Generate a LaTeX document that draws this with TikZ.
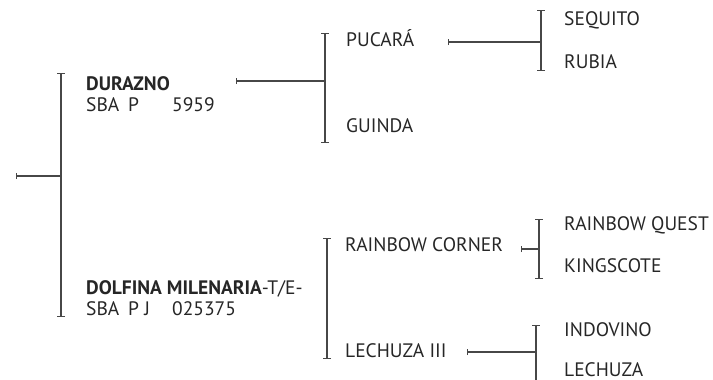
\documentclass[tikz,border=0pt]{standalone}
\usepackage{fontspec}
\setmainfont{PT Sans}
\usetikzlibrary{arrows.meta, positioning}
\colorlet{linecolor}{black!72}
\colorlet{textcolor}{black!85}
\tikzset{
  horse/.style={
    anchor=base west,
    inner sep=0pt,
    text=textcolor,
    font=\fontsize{19.5}{21}\selectfont
  },
  bracket/.style={{Bar[width=8pt]}-{Bar[width=8pt]}, line width=1.1pt, draw=linecolor},
  link/.style={{Bar[width=6pt]}-, line width=1.1pt, draw=linecolor}
}
\newcommand{\regno}[3]{\makebox[42pt][l]{#1}\makebox[44pt][l]{#2}#3}

\begin{document}
\begin{tikzpicture}[x=1pt, y=-1pt]
\useasboundingbox (0,0) rectangle (713,380);

% first generation
\node[horse] (durazno) at (86,90) {\textbf{DURAZNO}};
\node[horse] (duraznoreg) at ([yshift=-21pt]durazno.base west) {\regno{SBA}{P}{5959}};
\node[horse] (dolfina) at (86,294) {\textbf{DOLFINA MILENARIA}-T/E-};
\node[horse] (dolfinareg) at ([yshift=-21pt]dolfina.base west) {\regno{SBA}{P J}{025375}};

% second generation
\node[horse] (pucara) at (346,46) {PUCARÁ};
\node[horse] (guinda) at (346,132) {GUINDA};
\node[horse] (rainbowcorner) at (345,251) {RAINBOW CORNER};
\node[horse] (lechuzaiii) at (345,357) {LECHUZA III};

% third generation
\node[horse] (sequito) at (564,26) {SEQUITO};
\node[horse] (rubia) at (564,68) {RUBIA};
\node[horse] (rainbowquest) at (564,230) {RAINBOW QUEST};
\node[horse] (kingscote) at (564,272) {KINGSCOTE};
\node[horse] (indovino) at (564,336) {INDOVINO};
\node[horse] (lechuza) at (564,376) {LECHUZA};

% bracket ends and line starts
\coordinate (rootbar-top) at (61,73);
\coordinate (rootbar-bot) at (61,317);
\coordinate (duraznobar-top) at (325,33);
\coordinate (duraznobar-bot) at (325,143);
\coordinate (pucarabar-top) at (541,10);
\coordinate (pucarabar-bot) at (541,71);
\coordinate (dolfinabar-top) at (327,238);
\coordinate (dolfinabar-bot) at (327,359);
\coordinate (rainbowbar-top) at (539,219);
\coordinate (rainbowbar-bot) at (539,279);
\coordinate (lechuzabar-top) at (536,325);
\coordinate (lechuzabar-bot) at (536,396);

\coordinate (root) at (16,176);
\coordinate (duraznotick) at (236,81);
\coordinate (pucaratick) at (448,42);
\coordinate (rainbowtick) at (521,249);
\coordinate (lechuzatick) at (467,352);

\foreach \br in {rootbar, duraznobar, pucarabar, dolfinabar, rainbowbar, lechuzabar}
  \draw[bracket] (\br-top) -- (\br-bot);

\draw[link] (root) -- (root -| rootbar-top);
\draw[link] (duraznotick) -- (duraznotick -| duraznobar-top);
\draw[link] (pucaratick) -- (pucaratick -| pucarabar-top);
\draw[link] (rainbowtick) -- (rainbowtick -| rainbowbar-top);
\draw[link] (lechuzatick) -- (lechuzatick -| lechuzabar-top);

\end{tikzpicture}
\end{document}
